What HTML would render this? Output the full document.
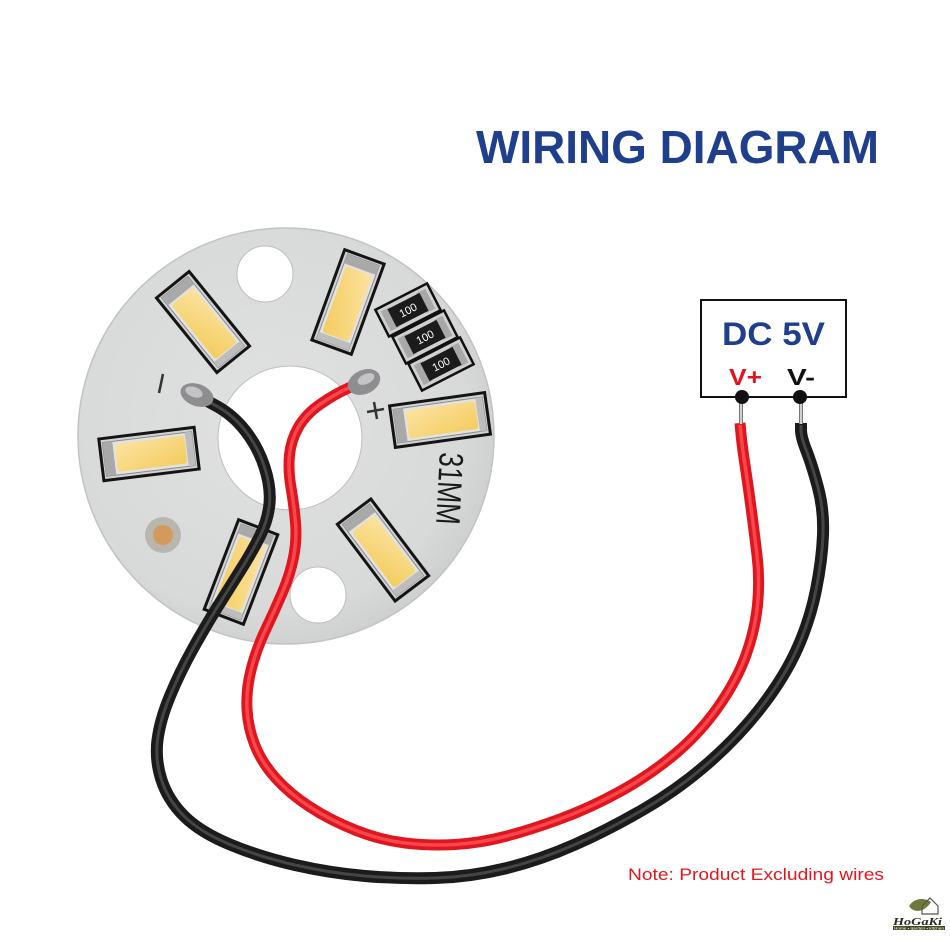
<!DOCTYPE html>
<html><head><meta charset="utf-8"><style>
html,body{margin:0;padding:0;background:#fff;}
svg{display:block;}
</style></head><body>
<svg width="950" height="950" viewBox="0 0 950 950" xmlns="http://www.w3.org/2000/svg">
<defs>
<linearGradient id="yel" x1="0" y1="0" x2="1" y2="1">
<stop offset="0" stop-color="#fbe3a0"/><stop offset="1" stop-color="#f4cc5e"/>
</linearGradient>
<radialGradient id="brd" cx="0.45" cy="0.45" r="0.6">
<stop offset="0" stop-color="#e0e1e1"/><stop offset="0.8" stop-color="#d8d9d9"/><stop offset="1" stop-color="#cbcccc"/>
</radialGradient>
<g id="led">
<rect x="-48" y="-21" width="96" height="42" fill="#d2d2d2" stroke="#141414" stroke-width="3"/>
<rect x="-45" y="-17" width="90" height="34" fill="#e2e2e2" stroke="#8a8a8a" stroke-width="1"/>
<rect x="-45" y="-17" width="10" height="34" fill="#a9a9a9"/>
<rect x="38" y="-17" width="7" height="34" fill="#bdbdbd"/>
<rect x="-33" y="-14" width="70" height="28" rx="3" fill="url(#yel)"/>
</g>
<g id="res">
<rect x="-29" y="-15" width="58" height="30" fill="#d0d0d0" stroke="#111" stroke-width="2.5"/>
<rect x="-25" y="-11" width="10" height="22" fill="#a8a8a8"/>
<rect x="15" y="-11" width="10" height="22" fill="#a8a8a8"/>
<rect x="-18" y="-10" width="36" height="20" fill="#1b1b1b"/>
<text x="0" y="4" font-family="Liberation Sans, sans-serif" font-size="11" fill="#fff" text-anchor="middle">100</text>
</g>
</defs>

<!-- Title -->
<text x="476" y="163" font-family="Liberation Sans, sans-serif" font-size="46" font-weight="bold" fill="#1f3f8d" textLength="403" lengthAdjust="spacingAndGlyphs">WIRING DIAGRAM</text>

<!-- Board -->
<circle cx="286" cy="436" r="208" fill="url(#brd)" stroke="#c2c3c3" stroke-width="1.5"/>
<circle cx="290" cy="438" r="72" fill="#fff" stroke="#bdbdbd" stroke-width="1"/>
<circle cx="265" cy="274" r="28" fill="#fff" stroke="#bdbdbd" stroke-width="1"/>
<circle cx="318" cy="595" r="28" fill="#fff" stroke="#bdbdbd" stroke-width="1"/>

<!-- copper pad -->
<circle cx="163" cy="535" r="18" fill="#b9b6ae"/>
<circle cx="163" cy="535" r="10" fill="#d49a5c"/>

<!-- LEDs -->
<use href="#led" transform="translate(203,322) rotate(51)"/>
<use href="#led" transform="translate(348,302) rotate(110)"/>
<use href="#led" transform="translate(149,454) rotate(-7)"/>
<use href="#led" transform="translate(440,420) rotate(-8)"/>
<use href="#led" transform="translate(241,572) rotate(111)"/>
<use href="#led" transform="translate(383,550) rotate(53)"/>

<!-- resistors -->
<use href="#res" transform="translate(408,310) rotate(-27)"/>
<use href="#res" transform="translate(425,337) rotate(-27)"/>
<use href="#res" transform="translate(441,364) rotate(-27)"/>

<!-- marks -->
<line x1="163" y1="374" x2="159" y2="393" stroke="#333" stroke-width="2.5"/>
<line x1="367" y1="412" x2="384" y2="409" stroke="#333" stroke-width="2.5"/>
<line x1="374" y1="402" x2="377" y2="419" stroke="#333" stroke-width="2.5"/>
<text transform="translate(438,488) rotate(93)" font-family="Liberation Sans, sans-serif" font-size="34" fill="#1a1a1a" text-anchor="middle" textLength="72" lengthAdjust="spacingAndGlyphs">31MM</text>

<!-- Black wire -->
<path id="bw" fill="none" stroke="#1b1b1b" stroke-width="12" stroke-linecap="butt" d="M200,397 L216.5,406 Q233,415 245.5,431 Q258,447 264.5,467 Q271,487 269.5,503.5 Q268,520 260,536 Q252,552 240,571 Q228,590 216.5,608.5 Q205,627 192.5,649.5 Q180,672 170,696 Q160,720 157.5,740 Q155,760 161.5,780 Q168,800 184,816 Q200,832 230,844.5 Q260,857 295,865 Q330,873 365,876 Q400,879 435,878 Q470,877 505,868.5 Q540,860 575,844.5 Q610,829 645,808.5 Q680,788 710,761.5 Q740,735 762.5,705.5 Q785,676 797.5,648 Q810,620 816,590 Q822,560 823,535 Q824,510 818,487.5 Q812,465 806.5,451 Q801,437 801,430 L801,423"/>
<path fill="none" stroke="#454545" stroke-width="3" d="M200,397 L216.5,406 Q233,415 245.5,431 Q258,447 264.5,467 Q271,487 269.5,503.5 Q268,520 260,536 Q252,552 240,571 Q228,590 216.5,608.5 Q205,627 192.5,649.5 Q180,672 170,696 Q160,720 157.5,740 Q155,760 161.5,780 Q168,800 184,816 Q200,832 230,844.5 Q260,857 295,865 Q330,873 365,876 Q400,879 435,878 Q470,877 505,868.5 Q540,860 575,844.5 Q610,829 645,808.5 Q680,788 710,761.5 Q740,735 762.5,705.5 Q785,676 797.5,648 Q810,620 816,590 Q822,560 823,535 Q824,510 818,487.5 Q812,465 806.5,451 Q801,437 801,430 L801,425"/>

<!-- Red wire -->
<path fill="none" stroke="#e0161e" stroke-width="11" stroke-linecap="butt" d="M362,382 L348.5,388 Q335,394 320.5,404 Q306,414 298.5,427 Q291,440 289.5,455 Q288,470 291,487.5 Q294,505 295.5,522.5 Q297,540 293.5,557.5 Q290,575 282,593.5 Q274,612 265,631 Q256,650 251,670 Q246,690 247,709 Q248,728 255,745.5 Q262,763 276,778.5 Q290,794 310,807 Q330,820 355,830 Q380,840 405,843 Q430,846 455,844.5 Q480,843 505,836.5 Q530,830 560,819 Q590,808 620,791.5 Q650,775 675,754 Q700,733 718.5,706.5 Q737,680 746,655 Q755,630 757.5,605 Q760,580 757,555 Q754,530 751,507.5 Q748,485 745,465 Q742,445 741,434 L740,423"/>
<path fill="none" stroke="#f5474d" stroke-width="3.5" d="M362,382 L348.5,388 Q335,394 320.5,404 Q306,414 298.5,427 Q291,440 289.5,455 Q288,470 291,487.5 Q294,505 295.5,522.5 Q297,540 293.5,557.5 Q290,575 282,593.5 Q274,612 265,631 Q256,650 251,670 Q246,690 247,709 Q248,728 255,745.5 Q262,763 276,778.5 Q290,794 310,807 Q330,820 355,830 Q380,840 405,843 Q430,846 455,844.5 Q480,843 505,836.5 Q530,830 560,819 Q590,808 620,791.5 Q650,775 675,754 Q700,733 718.5,706.5 Q737,680 746,655 Q755,630 757.5,605 Q760,580 757,555 Q754,530 751,507.5 Q748,485 745,465 Q742,445 741,434 L740,425"/>

<!-- solder blobs -->
<ellipse cx="197" cy="395" rx="17" ry="11" transform="rotate(20 197 395)" fill="#8e8e90"/>
<ellipse cx="194" cy="392" rx="9" ry="5" transform="rotate(20 194 392)" fill="#c4c4c6"/>
<ellipse cx="364" cy="382" rx="17" ry="12" transform="rotate(-25 364 382)" fill="#8e8e90"/>
<ellipse cx="366" cy="379" rx="9" ry="5" transform="rotate(-25 366 379)" fill="#c4c4c6"/>

<!-- DC box -->
<rect x="701" y="300" width="145" height="97" fill="#fff" stroke="#111" stroke-width="2"/>
<text x="722" y="345" font-family="Liberation Sans, sans-serif" font-size="32" font-weight="bold" fill="#1f3f8d" textLength="103" lengthAdjust="spacingAndGlyphs">DC 5V</text>
<text x="729" y="385" font-family="Liberation Sans, sans-serif" font-size="23" font-weight="bold" fill="#e0161e" textLength="33" lengthAdjust="spacingAndGlyphs">V+</text>
<text x="787" y="385" font-family="Liberation Sans, sans-serif" font-size="23" font-weight="bold" fill="#111" textLength="28" lengthAdjust="spacingAndGlyphs">V-</text>
<line x1="741" y1="397" x2="741" y2="424" stroke="#777" stroke-width="4"/>
<line x1="741" y1="397" x2="741" y2="424" stroke="#eee" stroke-width="1.5"/>
<line x1="801" y1="397" x2="801" y2="424" stroke="#777" stroke-width="4"/>
<line x1="801" y1="397" x2="801" y2="424" stroke="#eee" stroke-width="1.5"/>
<circle cx="742" cy="397" r="7" fill="#111"/>
<circle cx="800" cy="397" r="7" fill="#111"/>

<!-- Note -->
<text x="628" y="880" font-family="Liberation Sans, sans-serif" font-size="17" fill="#e3161f" textLength="256" lengthAdjust="spacingAndGlyphs">Note: Product Excluding wires</text>

<!-- Logo -->
<path d="M909,906 C915,897 925,898 931,902 C925,912 914,914 909,906 Z" fill="#6f7a3a"/>
<path d="M922,906 L930,898 L938,906 L938,914 L922,914 Z" fill="none" stroke="#555" stroke-width="1.2"/>
<text x="893" y="925" font-family="Liberation Serif, serif" font-size="11" font-weight="bold" font-style="italic" fill="#2a2a1e" textLength="49" lengthAdjust="spacingAndGlyphs">HoGaKi</text>
<rect x="893" y="926" width="52" height="4" fill="#3f4a22"/>
<text x="894" y="929.5" font-family="Liberation Sans, sans-serif" font-size="3.5" fill="#fff" textLength="50" lengthAdjust="spacingAndGlyphs">Home • garden • kitchen</text>
</svg>
</body></html>
